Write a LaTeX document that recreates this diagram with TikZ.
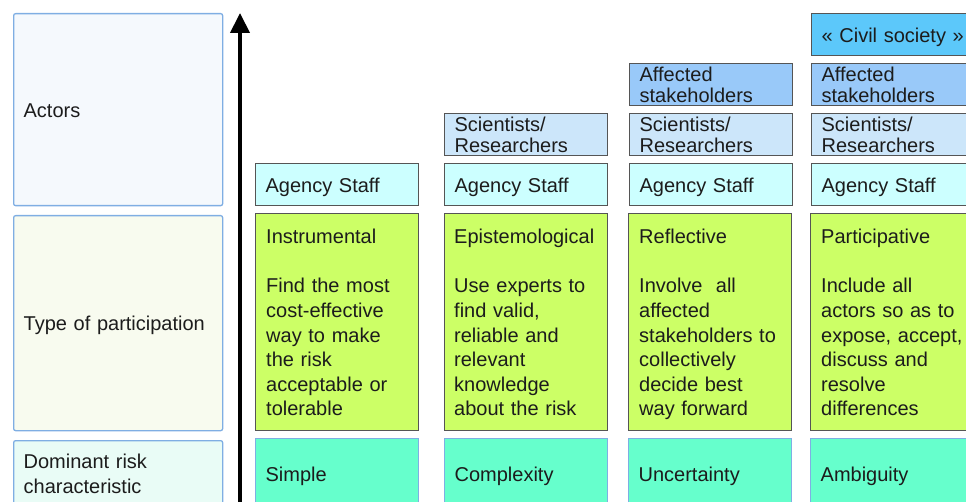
\documentclass[tikz,border=0pt]{standalone}
\usepackage{fontspec}
\setmainfont{Liberation Sans}
\usetikzlibrary{arrows.meta}

\definecolor{txt}{HTML}{1C1C1C}
\definecolor{labelline}{HTML}{7FAEE3}
\definecolor{cellline}{HTML}{555555}
\definecolor{actorsbg}{HTML}{F5F9FD}
\definecolor{typebg}{HTML}{F8FBEF}
\definecolor{riskbg}{HTML}{E9FCF6}
\definecolor{staff}{HTML}{CCFFFF}
\definecolor{science}{HTML}{CCE6FA}
\definecolor{affected}{HTML}{99C9F9}
\definecolor{civil}{HTML}{5CC8FA}
\definecolor{typefill}{HTML}{CCFF66}
\definecolor{riskfill}{HTML}{66FFCC}

\newcommand{\cellfont}{\fontsize{20}{24.6}\selectfont}
\newcommand{\tightfont}{\fontsize{20}{21}\selectfont}

\tikzset{
  rowlabel/.style={draw=labelline, line width=1.3pt, rounded corners=2pt,
    anchor=north west, minimum width=209pt, inner xsep=10pt, inner ysep=0pt,
    text width=189pt, align=left, font=\cellfont, text=txt},
  lowered/.style={text height=18pt, text depth=2.6pt},
  cell/.style={draw=cellline, line width=1.2pt, anchor=north west,
    minimum height=42pt, inner xsep=10pt, inner ysep=0pt,
    text width=143pt, align=left, font=\cellfont, text=txt},
  twoline/.style={cell, font=\tightfont},
  typebox/.style={draw=cellline, line width=1.2pt, anchor=north west,
    minimum width=163pt, minimum height=217pt, inner sep=0pt, fill=typefill},
  typetext/.style={anchor=north west, inner sep=0pt, text width=150pt,
    align=left, font=\cellfont, text=txt},
  riskbox/.style={draw=labelline, line width=1.3pt, anchor=north west,
    minimum height=70pt, inner xsep=10pt, inner ysep=0pt,
    text width=143pt, align=left, font=\cellfont, text=txt, fill=riskfill},
}

\begin{document}
\begin{tikzpicture}[x=1pt,y=-1pt]
    \useasboundingbox (0,0) rectangle (966,502);
    \clip (0,0) rectangle (966,502);
    % row labels
    \node[rowlabel, lowered, fill=actorsbg, minimum height=192pt] (actors) at (13,13) {Actors};
    \node[rowlabel, lowered, fill=typebg, minimum height=215pt] (typelabel) at (13,215) {Type of participation};
    \node[rowlabel, fill=riskbg, minimum height=66pt] (risklabel) at (13,440) {Dominant risk\\characteristic};
    % vertical arrow
    \coordinate (arrowfoot) at (240,510);
    \coordinate (arrowtip) at (240,13);
    \draw[line width=4pt, -{Triangle[length=20pt,width=19pt]}] (arrowfoot) -- (arrowtip);
    % actors
    \foreach \n/\x in {1/255,2/444,3/629,4/811}
    \node[cell, lowered, fill=staff] (staff\n) at (\x,163) {Agency Staff};
    \foreach \n/\x in {2/444,3/629,4/811}
    \node[twoline, fill=science] (science\n) at (\x,113) {Scientists/\\Researchers};
    \foreach \n/\x in {3/629,4/811}
    \node[twoline, fill=affected] (affected\n) at (\x,63) {Affected\\stakeholders};
    \node[cell, lowered, fill=civil] (civil4) at (811,13) {« Civil society »};
    % type of participation
    \foreach \n/\x in {1/255,2/444,3/628,4/810}
    \node[typebox] (type\n) at (\x,213) {};
    \node[typetext] (typetext1) at ([shift={(11pt,-16pt)}]type1.north west)
      {Instrumental\\[24.6pt]Find the most\\cost-effective\\way to make\\the risk\\acceptable or\\tolerable};
    \node[typetext] (typetext2) at ([shift={(10pt,-16pt)}]type2.north west)
      {Epistemological\\[24.6pt]Use experts to\\find valid,\\reliable and\\relevant\\knowledge\\about the risk};
    \node[typetext] (typetext3) at ([shift={(11pt,-16pt)}]type3.north west)
      {Reflective\\[24.6pt]Involve\ \ all\\affected\\stakeholders to\\collectively\\decide best\\way forward};
    \node[typetext] (typetext4) at ([shift={(11pt,-16pt)}]type4.north west)
      {Participative\\[24.6pt]Include all\\actors so as to\\expose, accept,\\discuss and\\resolve\\differences};
    % dominant risk characteristic
    \foreach \n/\x/\t in {1/255/Simple,2/444/Complexity,3/628/Uncertainty,4/810/Ambiguity}
    \node[riskbox, lowered] (risk\n) at (\x,438) {\t};
\end{tikzpicture}
\end{document}
